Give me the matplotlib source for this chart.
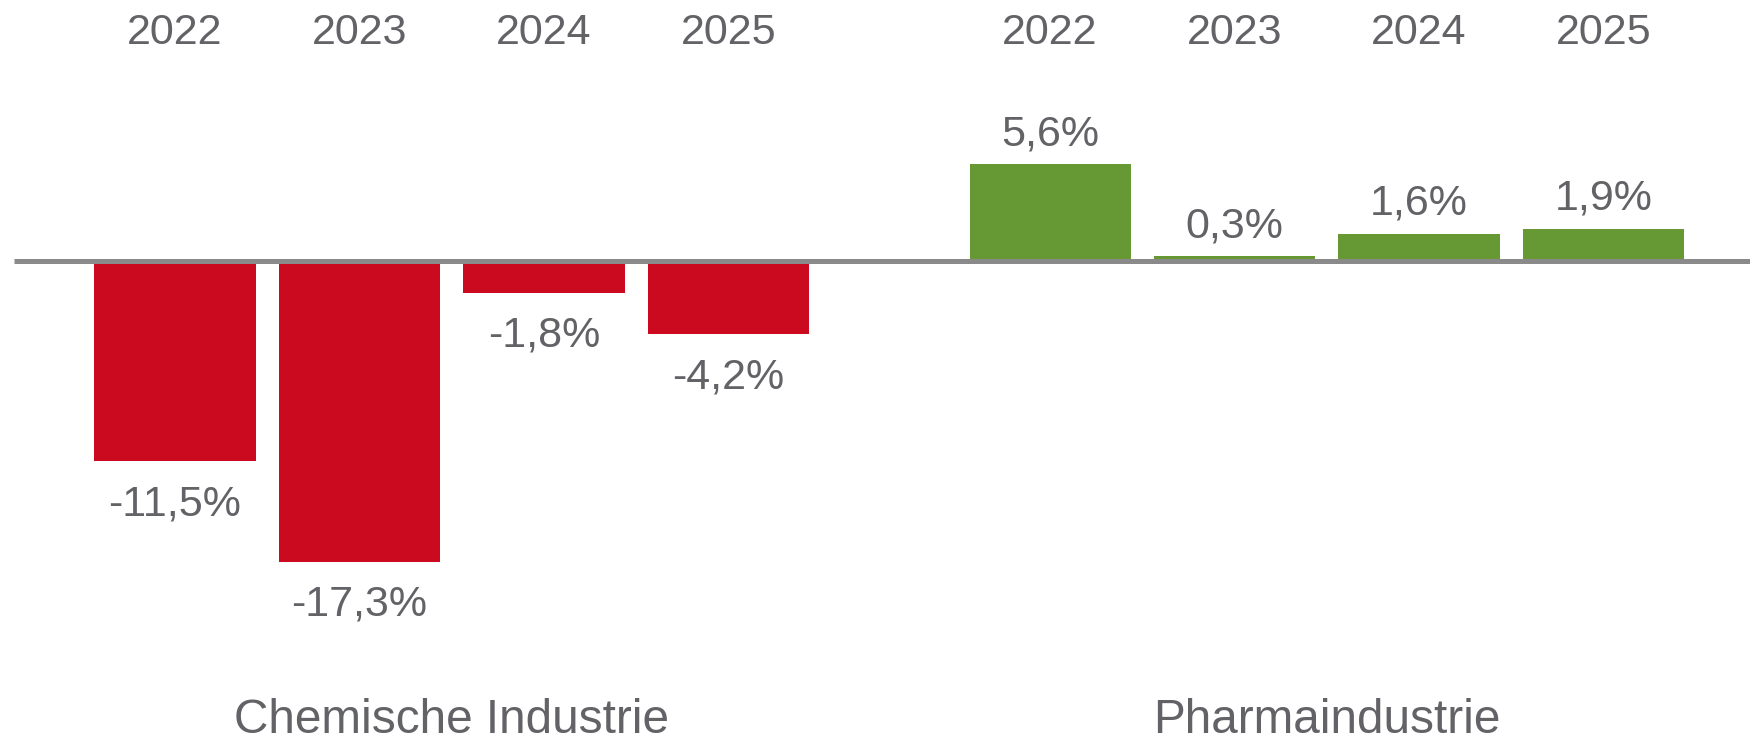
import matplotlib
matplotlib.use("Agg")
import matplotlib.pyplot as plt
import matplotlib.transforms as mtransforms
import numpy as np

# ---- data ----
groups = ["Chemische Industrie", "Pharmaindustrie"]
years = ["2022", "2023", "2024", "2025"]
chem_values = [-11.5, -17.3, -1.8, -4.2]
pharma_values = [5.6, 0.3, 1.6, 1.9]
value_labels_chem = ["-11,5%", "-17,3%", "-1,8%", "-4,2%"]
value_labels_pharma = ["5,6%", "0,3%", "1,6%", "1,9%"]

# ---- style ----
plt.rcParams['font.family'] = ['Liberation Sans', 'DejaVu Sans']
RED = "#CC0A1F"
GREEN = "#669933"
TEXT = "#626267"
LINE = "#8A8A8A"

DPI = 100
fig = plt.figure(figsize=(17.5, 7.4), dpi=DPI)
ax = fig.add_axes([0, 0, 1, 1])
ax.set_xlim(-0.9485, 8.537)
ax.set_ylim(-27.58, 15.07)
ax.axis("off")

group_offset = 4.743
bar_width = 0.873

series = [(chem_values, value_labels_chem, RED), (pharma_values, value_labels_pharma, GREEN)]
trans_top = mtransforms.blended_transform_factory(ax.transData, ax.transAxes)

for g, (vals, labs, col) in enumerate(series):
    x = np.arange(len(vals)) + g * group_offset
    ax.bar(x, vals, width=bar_width, color=col, zorder=2)
    for xi, v, lab in zip(x, vals, labs):
        off = 13.5 if v >= 0 else -38.9
        ax.annotate(lab, (xi, v), xytext=(0, off), textcoords="offset points",
                    ha="center", va="baseline", fontsize=31, color=TEXT)
    for xi, yr in zip(x, years):
        ax.text(xi, 1 - 44 / 740, yr, transform=trans_top, ha="center",
                va="baseline", fontsize=31, color=TEXT)
    ax.text(x.mean(), 1 - 733 / 740, groups[g], transform=trans_top, ha="center",
            va="baseline", fontsize=34.4, color=TEXT)

# zero line
ax.plot([-0.873, 8.537], [0, 0], color=LINE, linewidth=3.6, zorder=3,
        solid_capstyle="butt")

fig.savefig("out.png", dpi=DPI)
